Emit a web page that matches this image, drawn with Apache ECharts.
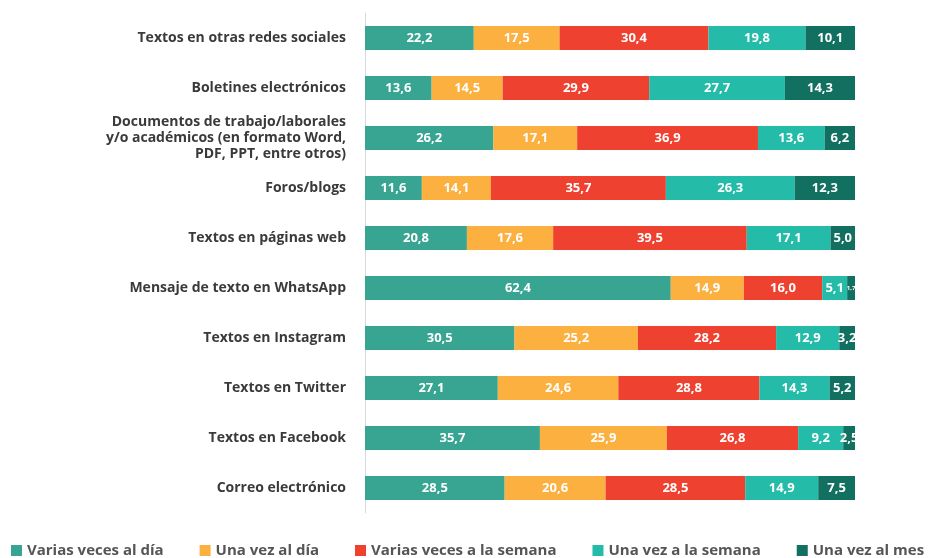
<!DOCTYPE html>
<html>
<head>
<meta charset="utf-8">
<script src="https://cdn.jsdelivr.net/npm/echarts@6/dist/echarts.min.js"></script>
<style>
  html, body { margin: 0; padding: 0; background: #fff; }
  #chart { width: 931px; height: 558px; }
</style>
</head>
<body>
<div id="chart"></div>
<script>
// categorias, de arriba hacia abajo
const categories = [
  "Textos en otras redes sociales",
  "Boletines electrónicos",
  "Documentos de trabajo/laborales\ny/o académicos (en formato Word,\nPDF, PPT, entre otros)",
  "Foros/blogs",
  "Textos en páginas web",
  "Mensaje de texto en WhatsApp",
  "Textos en Instagram",
  "Textos en Twitter",
  "Textos en Facebook",
  "Correo electrónico"
];
const variasDia = [22.2, 13.6, 26.2, 11.6, 20.8, 62.4, 30.5, 27.1, 35.7, 28.5];
const unaDia = [17.5, 14.5, 17.1, 14.1, 17.6, 14.9, 25.2, 24.6, 25.9, 20.6];
const variasSemana = [30.4, 29.9, 36.9, 35.7, 39.5, 16.0, 28.2, 28.8, 26.8, 28.5];
const unaSemana = [19.8, 27.7, 13.6, 26.3, 17.1, 5.1, 12.9, 14.3, 9.2, 14.9];
const unaMes = [10.1, 14.3, 6.2, 12.3, 5.0, 1.7, 3.2, 5.2, 2.5, 7.5];

const seriesNames = ["Varias veces al día", "Una vez al día", "Varias veces a la semana", "Una vez a la semana", "Una vez al mes"];
const seriesData = [variasDia, unaDia, variasSemana, unaSemana, unaMes];
const colors = ["#37a592", "#fbb040", "#ef4130", "#24bca8", "#117060"];

const chart = echarts.init(document.getElementById("chart"));

function mkSeries(i) {
  return {
    name: seriesNames[i],
    type: "bar",
    stack: "total",
    barWidth: 24,
    itemStyle: { color: colors[i] },
    label: {
      show: true,
      position: "inside",
      color: "#fff",
      fontFamily: "Open Sans",
      fontWeight: 700,
      fontSize: 13,
      formatter: p => p.value.toFixed(1).replace(".", ",")
    },
    data: seriesData[i].map(v => v < 2
      ? { value: v, label: { fontSize: 6 } }
      : v)
  };
}

chart.setOption({
  animation: false,
  color: colors,
  grid: { left: 365, right: 76, top: 13, height: 500 },
  xAxis: {
    type: "value",
    min: 0,
    max: 100,
    show: false
  },
  yAxis: {
    type: "category",
    inverse: true,
    data: categories,
    axisLine: { show: true, lineStyle: { color: "#d6dbe2", width: 1 } },
    axisTick: { show: false },
    axisLabel: {
      margin: 19,
      color: "#3a3a3a",
      fontFamily: "Open Sans",
      fontWeight: 700,
      fontSize: 14,
      lineHeight: 16,
      align: "right"
    }
  },
  legend: {
    top: 538,
    left: 6,
    itemWidth: 11,
    itemHeight: 11,
    itemGap: 36,
    icon: "rect",
    textStyle: {
      color: "#555",
      fontFamily: "Open Sans",
      fontWeight: 700,
      fontSize: 15
    }
  },
  series: [0, 1, 2, 3, 4].map(mkSeries)
});
</script>
</body>
</html>
